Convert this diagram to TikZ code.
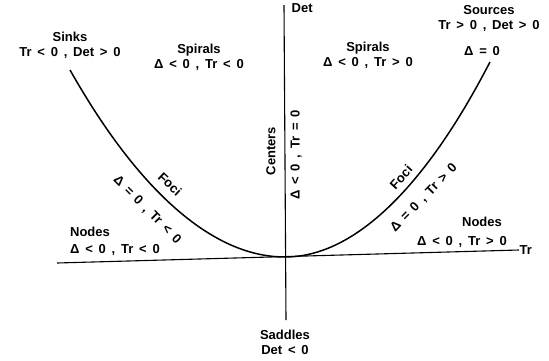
\documentclass[tikz,border=0pt]{standalone}
\usepackage{fontspec}
\setmainfont[WordSpace=1.6]{Liberation Sans}
\usepackage{tikz}

\begin{document}
\begin{tikzpicture}[
    x=1pt, y=-1pt,
    lbl/.style={font=\fontsize{13}{15}\selectfont\bfseries, inner sep=0.5pt, align=center},
    axis/.style={line width=1.1pt},
    curve/.style={line width=1.5pt}
  ]
    \useasboundingbox (0,0) rectangle (549,360);
    % axes
    \coordinate (trL) at (57,263);
    \coordinate (trR) at (519,250);
    \coordinate (detT) at (284,5);
    \coordinate (detB) at (286,320);
    \draw[axis] (trL) -- (trR);
    \draw[axis] (detT) -- (detB);
    \node[lbl, anchor=west] (tr) at (trR) {Tr};
    \node[lbl, anchor=north west] (det) at (291,3) {Det};
    % the curve Delta = 0
    \coordinate (sinkEnd) at (70,70);
    \coordinate (origin) at (285,257);
    \coordinate (sourceEnd) at (490,62);
    \draw[curve] (sinkEnd) parabola bend (origin) (sourceEnd);
    % regions
    \node[lbl] (sinks) at (70,45) {Sinks\\Tr < 0 , Det > 0};
    \node[lbl] (spiralsL) at (199,57) {Spirals\\Δ < 0 , Tr < 0};
    \node[lbl] (spiralsR) at (368,55) {Spirals\\Δ < 0 , Tr > 0};
    \node[lbl] (sources) at (489,18) {Sources\\Tr > 0 , Det > 0};
    \node[lbl] (deltaZero) at (482,51) {Δ = 0};
    \node[lbl, rotate=90] (centers) at (271,151) {Centers};
    \node[lbl, rotate=90] (centersCond) at (296,155) {Δ < 0 , Tr = 0};
    \node[lbl, rotate=-43] (fociL) at (170,184) {Foci};
    \node[lbl, rotate=-45] (fociLCond) at (147,210) {Δ = 0 , Tr < 0};
    \node[lbl, rotate=48] (fociR) at (401,177) {Foci};
    \node[lbl, rotate=46] (fociRCond) at (424,198) {Δ = 0 , Tr > 0};
    \node[lbl] (nodesL) at (90,232) {Nodes};
    \node[lbl] (nodesLCond) at (115,250) {Δ < 0 , Tr < 0};
    \node[lbl] (nodesR) at (482,222) {Nodes};
    \node[lbl] (nodesRCond) at (462,242) {Δ < 0 , Tr > 0};
    \node[lbl] (saddles) at (285,342) {Saddles\\Det < 0};
\end{tikzpicture}
\end{document}
